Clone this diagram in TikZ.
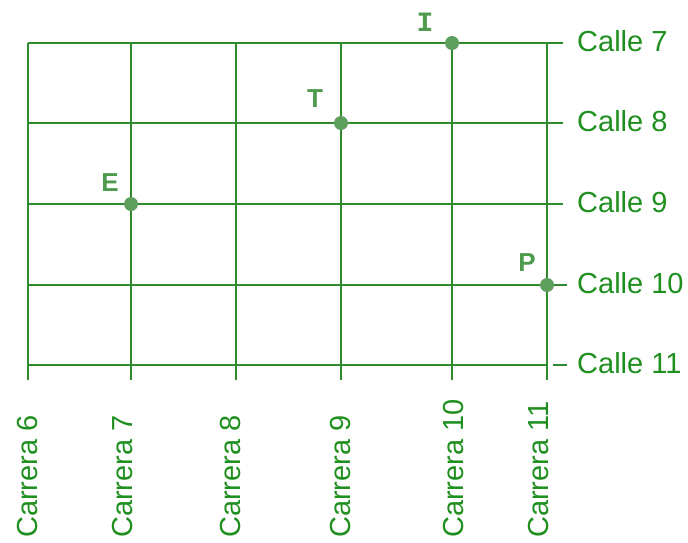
\documentclass[tikz,border=0pt]{standalone}
\usepackage{fontspec}
\setmainfont{Liberation Sans}
\newfontfamily\lblfont{Liberation Sans}
\newfontfamily\monobold{Liberation Mono}
\definecolor{gridgreen}{HTML}{2E8B2E}
\definecolor{textgreen}{HTML}{1F8F1F}
\definecolor{dotgreen}{HTML}{5E9E5E}
\definecolor{lettergreen}{HTML}{4E9A4E}
\tikzset{
  street/.style={draw=gridgreen, line width=1.8pt},
  callelbl/.style={anchor=base west, inner sep=0pt, text=textgreen, font=\fontsize{29}{29}\selectfont},
  carreralbl/.style={rotate=90, anchor=base west, inner sep=0pt, text=textgreen, font=\fontsize{29}{29}\selectfont},
  spot/.style={circle, fill=dotgreen, minimum size=14pt, inner sep=0pt},
  letter/.style={inner sep=0pt, text=lettergreen, font=\fontsize{26}{26}\selectfont\bfseries}
}
\begin{document}
\begin{tikzpicture}[x=1pt,y=-1pt]
\useasboundingbox (0,0) rectangle (688,542);
% vertical lines (carreras)
\foreach \x in {28,131,236,341,452,547}
  \draw[street] (\x,43) -- (\x,380);
% horizontal lines (calles)
\draw[street] (28,43) -- (563,43);
\draw[street] (28,123) -- (563,123);
\draw[street] (28,204) -- (563,204);
\draw[street] (28,285) -- (567,285);
\draw[street] (28,365) -- (547,365);
\draw[street] (553,365) -- (567,365);
% calle labels
\node[callelbl] (c7) at (577,51) {Calle 7};
\node[callelbl] (c8) at (577,131) {Calle 8};
\node[callelbl] (c9) at (577,212) {Calle 9};
\node[callelbl] (c10) at (577,293) {Calle 10};
\node[callelbl] (c11) at (577,373) {Calle 11};
% carrera labels
\node[carreralbl] (k6) at (37,538) {Carrera 6};
\node[carreralbl] (k7) at (132,538) {Carrera 7};
\node[carreralbl] (k8) at (240,538) {Carrera 8};
\node[carreralbl] (k9) at (350,538) {Carrera 9};
\node[carreralbl] (k10) at (463,538) {Carrera 10};
\node[carreralbl] (k11) at (548,538) {Carrera 11};
% points
\node[spot] (I) at (452,43) {};
\node[spot] (T) at (341,123) {};
\node[spot] (E) at (131,204) {};
\node[spot] (P) at (547,285) {};
\node[letter, font=\fontsize{28}{28}\selectfont\monobold\bfseries] (lI) at (425,22) {I};
\node[letter] (lT) at (315,99) {T};
\node[letter] (lE) at (110,183) {E};
\node[letter] (lP) at (527,263) {P};
\end{tikzpicture}
\end{document}
